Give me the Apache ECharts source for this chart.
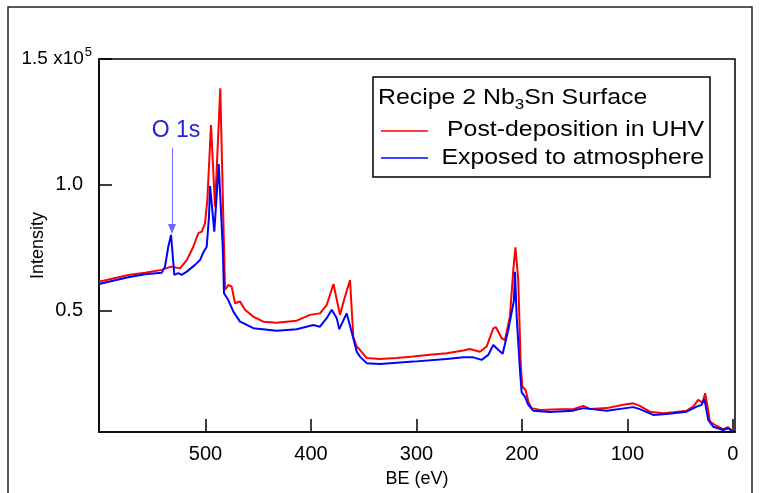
<!DOCTYPE html>
<html>
<head>
<meta charset="utf-8">
<script src="https://cdn.jsdelivr.net/npm/echarts@6/dist/echarts.min.js"></script>
<style>
html,body{margin:0;padding:0;background:#fff;}
#chart{width:762px;height:493px;}
</style>
</head>
<body>
<div id="chart"></div>
<script>
// Binding energy (eV) and intensity (counts) — Post-deposition in UHV
const beRed = [601, 573.2, 557.3, 541.5, 532.7, 524.2, 517.8, 511.6, 506.8, 503.6, 500.5, 498.3, 494.8, 491.0, 486.0, 482.5, 481.5, 478.4, 475.2, 472.0, 467.3, 462.6, 454.7, 445.2, 432.5, 413.6, 401.0, 391.5, 385.1, 378.7, 372.5, 368.7, 363.0, 359.9, 356.7, 353.6, 347.2, 334.6, 318.8, 303.0, 287.2, 271.4, 255.6, 249.3, 239.8, 233.5, 227.2, 224.6, 219.2, 216.1, 211.4, 208.2, 206.2, 203.5, 201.2, 199.7, 196.5, 194.0, 190.8, 182.9, 164.0, 151.4, 141.9, 135.5, 119.7, 104.0, 94.5, 88.2, 78.7, 66.1, 56.6, 43.9, 37.6, 32.9, 28.7, 26.3, 24.0, 21.8, 15.5, 9.2, 4.5, 0];
const redVals = [61400, 64100, 65000, 66100, 67400, 66700, 70000, 75300, 80700, 81300, 84600, 93900, 123700, 91200, 138300, 75300, 58100, 60100, 59400, 52800, 53500, 50200, 47500, 45500, 45100, 45900, 48200, 48800, 52100, 60500, 48200, 54100, 62100, 39500, 35600, 34300, 31000, 30600, 31000, 31600, 32300, 32900, 34000, 34600, 33500, 35600, 42800, 43300, 38900, 38200, 47500, 66100, 75100, 62100, 29000, 19700, 18300, 13700, 11100, 10400, 10700, 10700, 12000, 10800, 11100, 12400, 13000, 12000, 9700, 9100, 9500, 10100, 11700, 14400, 13300, 17000, 11700, 5700, 4000, 2700, 3500, 1800];

// Exposed to atmosphere
const beBlue = [601, 573.2, 557.3, 541.5, 538.4, 535.3, 532.7, 529.6, 525.8, 522.6, 517.8, 510.0, 505.2, 502.4, 498.9, 496.7, 495.7, 491.7, 487.5, 483.7, 482.5, 478.4, 473.6, 467.3, 464.2, 454.7, 432.5, 413.6, 397.8, 391.5, 385.1, 380.4, 375.6, 373.2, 366.2, 364.6, 359.9, 356.7, 353.6, 347.2, 334.6, 303.0, 271.4, 255.6, 246.2, 238.2, 231.9, 227.2, 222.5, 218.3, 213.0, 207.6, 206.6, 205.0, 201.9, 200.3, 197.2, 194.0, 189.3, 173.5, 151.4, 141.9, 119.7, 94.5, 88.2, 75.5, 62.8, 43.9, 34.4, 29.7, 27.0, 23.4, 18.7, 9.2, 4.5, 0];
const blueVals = [60500, 63200, 64400, 65000, 67400, 75300, 80000, 64100, 64800, 64100, 65400, 68100, 70000, 72800, 75300, 87300, 99500, 81300, 108200, 75300, 56800, 54100, 49500, 45500, 44900, 42900, 41900, 42500, 44200, 43500, 46900, 50200, 46900, 42500, 48800, 48800, 38900, 33600, 31600, 29000, 28700, 29600, 30600, 31300, 31300, 30300, 32300, 36200, 34300, 32700, 42200, 53900, 65300, 47500, 26300, 17400, 15700, 12400, 10100, 9600, 10100, 11100, 10100, 11500, 10700, 8400, 8800, 9700, 11700, 12400, 14800, 6400, 3700, 2400, 3100, 1700];

// Axis ticks
const xTicks = [0, 100, 200, 300, 400, 500];
const yTicks = [50000, 100000, 150000];

// Annotation (O 1s) in data coordinates
const o1sLabelPos = [528, 121400];
const o1sArrow = [[531.8, 114600], [531.8, 82400]];

const seriesNames = ['Post-deposition in UHV', 'Exposed to atmosphere'];

const FONT = '"Liberation Sans", Arial, Helvetica, sans-serif';
const chart = echarts.init(document.getElementById('chart'), null, {renderer: 'canvas'});

const option = {
  animation: false,
  backgroundColor: '#fff',
  grid: {left: 99, right: 27, top: 59, bottom: 61, containLabel: false, outerBoundsMode: 'none',
    show: true, borderColor: '#000', borderWidth: 1.5, backgroundColor: 'transparent'},
  xAxis: {
    type: 'value', inverse: true, min: -2, max: 601,
    name: 'BE (eV)', nameLocation: 'middle', nameGap: 38, nameMoveOverlap: false,
    nameTextStyle: {fontFamily: FONT, fontSize: 18, color: '#000'},
    axisLine: {show: true, onZero: false, lineStyle: {color: '#000', width: 1.5}},
    axisTick: {show: true, inside: true, length: 13, lineStyle: {color: '#000', width: 1.5}, customValues: xTicks},
    axisLabel: {fontFamily: FONT, fontSize: 20, color: '#000', margin: 12, customValues: xTicks},
    splitLine: {show: false}
  },
  yAxis: {
    type: 'value', min: 1600, max: 150000, position: 'left',
    name: 'Intensity', nameLocation: 'middle', nameGap: 52, nameRotate: 90, nameMoveOverlap: false,
    nameTextStyle: {fontFamily: FONT, fontSize: 18, color: '#000'},
    axisLine: {show: true, onZero: false, lineStyle: {color: '#000', width: 1.5}},
    axisTick: {show: true, inside: true, length: 13, lineStyle: {color: '#000', width: 1.5}, customValues: yTicks},
    axisLabel: {
      fontFamily: FONT, color: '#000', margin: 7, customValues: yTicks,
      formatter: function (v) {
        if (v === 150000) return '{m|1.5 x10}{s|5}';
        return '{a|' + (v / 1e5).toFixed(1) + '}';
      },
      rich: {
        a: {fontFamily: FONT, fontSize: 20, color: '#000', padding: [0, 9, 0, 0]},
        m: {fontFamily: FONT, fontSize: 19, color: '#000'},
        s: {fontFamily: FONT, fontSize: 13, color: '#000', padding: [0, 0, 14, 1]}
      }
    },
    splitLine: {show: false}
  },
  series: [
    {
      name: seriesNames[0], type: 'line', showSymbol: false, symbol: 'none',
      data: beRed.map((b, i) => [b, redVals[i]]),
      lineStyle: {color: '#ff0000', width: 2}, itemStyle: {color: '#ff0000'}, z: 2
    },
    {
      name: seriesNames[1], type: 'line', showSymbol: false, symbol: 'none',
      data: beBlue.map((b, i) => [b, blueVals[i]]),
      lineStyle: {color: '#0000ff', width: 2}, itemStyle: {color: '#0000ff'}, z: 3,
      markLine: {
        silent: true, symbol: ['none', 'triangle'], symbolSize: [8, 10],
        lineStyle: {color: '#6a6aff', width: 1, type: 'solid'},
        label: {show: false},
        data: [[{coord: o1sArrow[0]}, {coord: o1sArrow[1]}]]
      },
      markPoint: {
        silent: true, symbol: 'circle', symbolSize: 0,
        label: {show: true, position: 'inside', formatter: 'O 1s', fontFamily: FONT, fontSize: 23, color: '#2222dd'},
        data: [{coord: o1sLabelPos}]
      }
    }
  ],
  graphic: [
    {type: 'rect', shape: {x: 8, y: 7, width: 744, height: 500}, style: {fill: 'none', stroke: '#222', lineWidth: 1.5}, silent: true, z: 0},
    {type: 'rect', shape: {x: 373, y: 77, width: 337, height: 100}, style: {fill: '#fff', stroke: '#000', lineWidth: 1.5}, z: 10},
    {type: 'text', x: 378, y: 98, scaleX: 1.13, z: 11,
      style: {text: 'Recipe 2 Nb{sub|3}Sn Surface', fill: '#000', font: '22px ' + FONT, textAlign: 'left', textVerticalAlign: 'middle',
        rich: {sub: {fontSize: 15, fontFamily: FONT, fill: '#000', padding: [14, 0, 0, 0]}}}},
    {type: 'line', shape: {x1: 381, y1: 131, x2: 428, y2: 131}, style: {stroke: '#ff0000', lineWidth: 1.5}, z: 11},
    {type: 'text', x: 704, y: 130, scaleX: 1.13, z: 11,
      style: {text: seriesNames[0], fill: '#000', font: '22px ' + FONT, textAlign: 'right', textVerticalAlign: 'middle'}},
    {type: 'line', shape: {x1: 381, y1: 158, x2: 428, y2: 158}, style: {stroke: '#0000ff', lineWidth: 1.5}, z: 11},
    {type: 'text', x: 704, y: 158, scaleX: 1.13, z: 11,
      style: {text: seriesNames[1], fill: '#000', font: '22px ' + FONT, textAlign: 'right', textVerticalAlign: 'middle'}}
  ]
};
chart.setOption(option);
</script>
</body>
</html>
